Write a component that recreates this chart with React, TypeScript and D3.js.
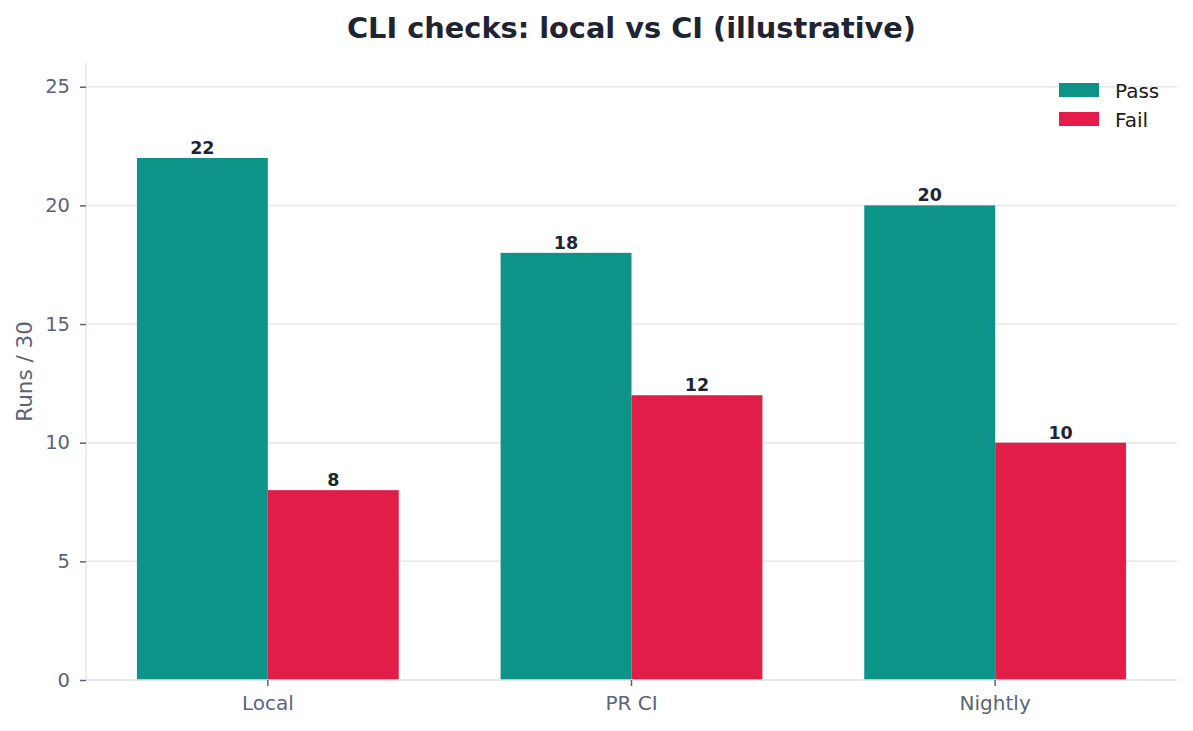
import React, { useRef, useEffect } from 'react';
import * as d3 from 'd3';

const categories = ['Local', 'PR CI', 'Nightly'];
const seriesNames = ['Pass', 'Fail'];
const passValues = [22, 18, 20];
const failValues = [8, 12, 10];
const yTicks = [0, 5, 10, 15, 20, 25];
const colors = ['#0d9488', '#e11d48'];

const W = 1193;
const H = 731;

const App: React.FC = () => {
    const svgRef = useRef<SVGSVGElement | null>(null);

    useEffect(() => {
        const svg = d3.select(svgRef.current);
        svg.selectAll('*').remove();

        const margin = { top: 63, right: 16, bottom: 51, left: 86 };
        const plotW = W - margin.left - margin.right;
        const plotH = H - margin.top - margin.bottom;
        const font = 'DejaVu Sans, sans-serif';
        const tickColor = '#5b6478';

        const g = svg.append('g').attr('transform', `translate(${margin.left},${margin.top})`);

        const x = d3.scaleBand<string>()
            .domain(categories)
            .range([0, plotW])
            .paddingInner(0.28)
            .paddingOuter(0.14);

        const xs = d3.scaleBand<string>()
            .domain(seriesNames)
            .range([0, x.bandwidth()]);

        const y = d3.scaleLinear().domain([0, 26]).range([plotH, 0]);

        // grid
        g.append('g')
            .selectAll('line')
            .data(yTicks)
            .enter()
            .append('line')
            .attr('x1', 0)
            .attr('x2', plotW)
            .attr('y1', d => y(d))
            .attr('y2', d => y(d))
            .attr('stroke', '#e5e7eb')
            .attr('stroke-width', 1.5);

        const table = categories.map((c, i) => ({ c, vals: [passValues[i], failValues[i]] }));

        const groups = g.selectAll('.grp')
            .data(table)
            .enter()
            .append('g')
            .attr('transform', d => `translate(${x(d.c)},0)`);

        groups.selectAll('rect')
            .data(d => d.vals.map((v, j) => ({ s: seriesNames[j], v, j })))
            .enter()
            .append('rect')
            .attr('x', d => xs(d.s) as number)
            .attr('width', xs.bandwidth())
            .attr('y', d => y(d.v))
            .attr('height', d => plotH - y(d.v))
            .attr('fill', d => colors[d.j]);

        groups.selectAll('text')
            .data(d => d.vals.map((v, j) => ({ s: seriesNames[j], v })))
            .enter()
            .append('text')
            .attr('x', d => (xs(d.s) as number) + xs.bandwidth() / 2)
            .attr('y', d => y(d.v) - 4)
            .attr('text-anchor', 'middle')
            .attr('font-family', font)
            .attr('font-weight', 'bold')
            .attr('font-size', 17.5)
            .attr('fill', '#1f2433')
            .text(d => d.v);

        // y axis
        const yAxis = g.append('g')
            .call(d3.axisLeft(y).tickValues(yTicks).tickSize(6).tickPadding(10));
        yAxis.select('.domain').attr('stroke', '#e5e7eb').attr('stroke-width', 1.5).attr('d', `M0,${plotH}V0`);
        yAxis.selectAll('.tick line').attr('stroke', tickColor).attr('stroke-width', 1.5);
        yAxis.selectAll('.tick text')
            .attr('font-family', font)
            .attr('font-size', 19.5)
            .attr('fill', tickColor);

        // x axis
        const xAxis = g.append('g')
            .attr('transform', `translate(0,${plotH})`)
            .call(d3.axisBottom(x).tickSize(6).tickPadding(10));
        xAxis.select('.domain').attr('stroke', '#e5e7eb').attr('stroke-width', 1.5).attr('d', `M0,0H${plotW}`);
        xAxis.selectAll('.tick line').attr('stroke', tickColor).attr('stroke-width', 1.5);
        xAxis.selectAll('.tick text')
            .attr('font-family', font)
            .attr('font-size', 20)
            .attr('fill', tickColor);

        // y label
        svg.append('text')
            .attr('transform', `translate(32,${margin.top + plotH / 2}) rotate(-90)`)
            .attr('text-anchor', 'middle')
            .attr('font-family', font)
            .attr('font-size', 21.5)
            .attr('fill', tickColor)
            .text('Runs / 30');

        // title
        svg.append('text')
            .attr('x', margin.left + plotW / 2)
            .attr('y', 38)
            .attr('text-anchor', 'middle')
            .attr('font-family', font)
            .attr('font-weight', 'bold')
            .attr('font-size', 28.8)
            .attr('fill', '#1f2433')
            .text('CLI checks: local vs CI (illustrative)');

        // legend
        const legend = svg.append('g').attr('transform', 'translate(1059,83)');
        seriesNames.forEach((s, i) => {
            legend.append('rect')
                .attr('x', 0)
                .attr('y', i * 29)
                .attr('width', 40)
                .attr('height', 14)
                .attr('fill', colors[i]);
            legend.append('text')
                .attr('x', 56)
                .attr('y', i * 29 + 15)
                .attr('font-family', font)
                .attr('font-size', 20)
                .attr('fill', '#1a1a1a')
                .text(s);
        });
    }, []);

    return <svg ref={svgRef} width={W} height={H} style={{ display: 'block', margin: '-8px' }} />;
};

export default App;
